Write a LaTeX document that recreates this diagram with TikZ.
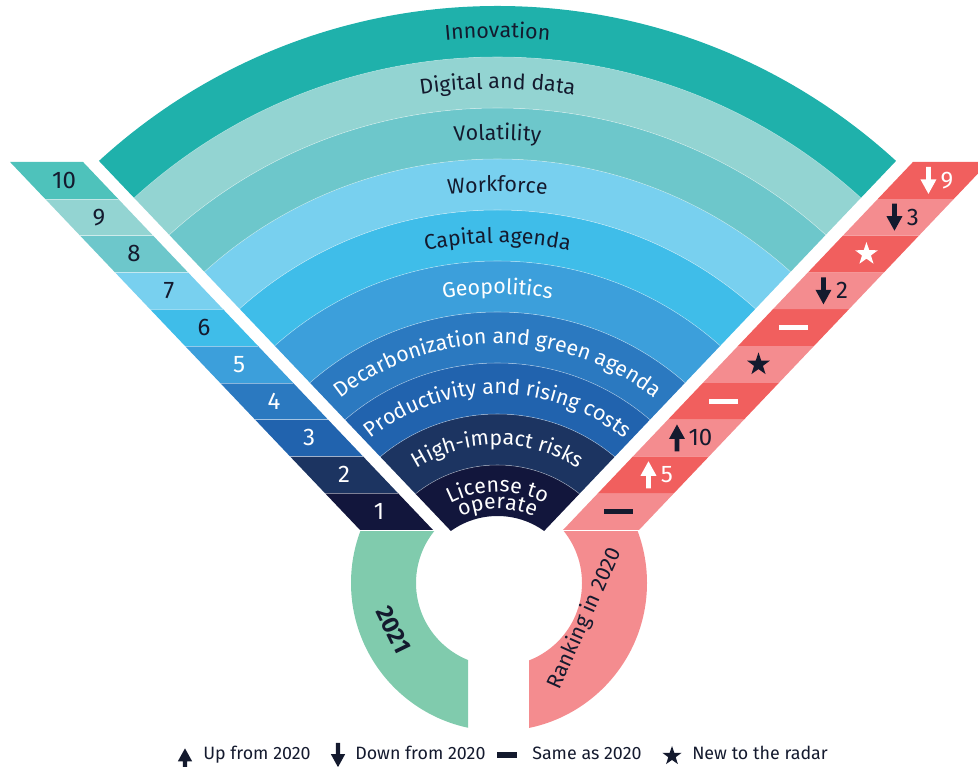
\documentclass[tikz,border=0pt]{standalone}
\usepackage{fontspec}
\setmainfont{Fira Sans}
\usetikzlibrary{calc,decorations.text,shapes.geometric}
\definecolor{innov}{HTML}{1FB1AB}
\definecolor{digit}{HTML}{93D4D2}
\definecolor{volat}{HTML}{6DC7CB}
\definecolor{workf}{HTML}{78D0EF}
\definecolor{capit}{HTML}{3FBDE9}
\definecolor{geopo}{HTML}{3C9FDB}
\definecolor{decarb}{HTML}{2B79C0}
\definecolor{produ}{HTML}{2163AE}
\definecolor{highi}{HTML}{1C3461}
\definecolor{licen}{HTML}{12163C}
\definecolor{cellten}{HTML}{4EC2BB}
\definecolor{redd}{HTML}{F15F5E}
\definecolor{pinkk}{HTML}{F48C8F}
\definecolor{greenn}{HTML}{80CBAD}
\definecolor{dtext}{HTML}{141A2E}
\newcommand\bandfnt{\fontsize{16}{16}\selectfont}
\newcommand\numfnt{\fontsize{18}{18}\selectfont}
\newcommand\legfnt{\fontsize{13.4}{14}\selectfont}
\tikzset{
  pics/uparr/.style={code={\fill[#1] (-2.4,-13.5) -- (-2.4,-1) -- (-8,-1) -- (0,13.5) -- (8,-1) -- (2.4,-1) -- (2.4,-13.5) -- cycle;}},
  pics/dnarr/.style={code={\fill[#1] (-2.4,13.5) -- (-2.4,1) -- (-8,1) -- (0,-13.5) -- (8,1) -- (2.4,1) -- (2.4,13.5) -- cycle;}},
  numtxt/.style={font=\numfnt, inner sep=0pt},
  newstar/.style={star, star points=5, star point ratio=2.55, inner sep=0pt, minimum size=18pt, fill=#1},
  samebar/.style={fill=#1, inner sep=0pt, minimum width=21.75pt, minimum height=3.9pt},
  sepline/.style={white, opacity=0.45, line width=0.4pt},
  legtxt/.style={font=\legfnt, text=dtext, anchor=base west, inner sep=0pt},
  bandtxt/.style 2 args={decorate,decoration={text along path,text align=center,text={|\bandfnt\color{#1}|#2}}},
}
\begin{document}
\begin{tikzpicture}[x=0.75pt,y=0.75pt]
\useasboundingbox (0,0) rectangle (978,767);
\clip (0,0) rectangle (978,767);
\coordinate (C) at (497.5,171);
\coordinate (R) at (499,184);
% ---- fan ----
\begin{scope}
\clip (497.5,187) -- ++(-0.951*800,800) -- ++(2*0.951*800,0) -- cycle;
\foreach \k/\col in {1/licen,2/highi,3/produ,4/decarb,5/geopo,6/capit,7/workf,8/volat,9/digit,10/innov}{
  \pgfmathsetmacro{\ri}{29+51*\k}
  \pgfmathsetmacro{\ro}{80+51*\k}
  \fill[\col, even odd rule] (C) circle[radius=\ro] (C) circle[radius=\ri];
}
\foreach \k in {1,...,9}{
  \pgfmathsetmacro{\rr}{80+51*\k}
  \draw[sepline] (C) circle[radius=\rr];
}
\end{scope}
% ---- band labels ----
\path[bandtxt={dtext}{Innovation}] (C) ++(160:558) arc[start angle=160,end angle=20,radius=558];
\path[bandtxt={dtext}{Digital and data}] (C) ++(160:507) arc[start angle=160,end angle=20,radius=507];
\path[bandtxt={dtext}{Volatility}] (C) ++(160:456) arc[start angle=160,end angle=20,radius=456];
\path[bandtxt={dtext}{Workforce}] (C) ++(160:404) arc[start angle=160,end angle=20,radius=404];
\path[bandtxt={dtext}{Capital agenda}] (C) ++(160:353) arc[start angle=160,end angle=20,radius=353];
\path[bandtxt={white}{Geopolitics}] (C) ++(160:302) arc[start angle=160,end angle=20,radius=302];
\path[bandtxt={white}{Decarbonization and green agenda}] (C) ++(160:252) arc[start angle=160,end angle=20,radius=252];
\path[bandtxt={white}{Productivity and rising costs}] (C) ++(160:202) arc[start angle=160,end angle=20,radius=202];
\path[bandtxt={white}{High-impact risks}] (C) ++(160:151) arc[start angle=160,end angle=20,radius=151];
\path[bandtxt={white}{License to}] (C) ++(160:104) arc[start angle=160,end angle=20,radius=104];
\path[bandtxt={white}{operate}] (C) ++(160:87) arc[start angle=160,end angle=20,radius=87];
% ---- left strip ----
\begin{scope}[xslant=-0.951]
\foreach \i/\col/\tc in {1/licen/white,2/highi/white,3/produ/white,4/decarb/white,5/geopo/white,6/capit/dtext,7/workf/dtext,8/volat/dtext,9/digit/dtext,10/cellten/dtext}{
  \pgfmathsetmacro{\ya}{237+36.8*(\i-1)}
  \pgfmathsetmacro{\yb}{237+36.8*\i}
  \pgfmathsetmacro{\ym}{237+36.8*(\i-0.5)}
  \fill[\col] (585.4,\ya) -- (658.4,\ya) -- (658.4,\yb) -- (585.4,\yb) -- cycle;
  \node[numtxt, text=\tc] (L\i) at (621.9,\ym) {\i};
}
\foreach \i in {1,...,9}{
  \pgfmathsetmacro{\yb}{237+36.8*\i}
  \draw[sepline] (585.4,\yb) -- (658.4,\yb);
}
\end{scope}
% ---- right strip ----
\begin{scope}[xslant=0.951]
\foreach \i/\col in {1/pinkk,2/redd,3/pinkk,4/redd,5/pinkk,6/redd,7/pinkk,8/redd,9/pinkk,10/redd}{
  \pgfmathsetmacro{\ya}{237+36.8*(\i-1)}
  \pgfmathsetmacro{\yb}{237+36.8*\i}
  \pgfmathsetmacro{\ym}{237+36.8*(\i-0.5)}
  \fill[\col] (337.6,\ya) -- (413.6,\ya) -- (413.6,\yb) -- (337.6,\yb) -- cycle;
  \coordinate (q\i) at (375.6,\ym);
}
\end{scope}
\pic at ($(q10)+(-5,0)$) {dnarr=white};
\node[numtxt,text=white] (n10) at ($(q10)+(13.5,0)$) {9};
\pic at ($(q9)+(-4,0)$) {dnarr=dtext};
\node[numtxt,text=dtext] (n9) at ($(q9)+(14.5,0)$) {3};
\node[newstar=white] (s8) at ($(q8)+(3,0)$) {};
\pic at ($(q7)+(-5,0)$) {dnarr=dtext};
\node[numtxt,text=dtext] (n7) at ($(q7)+(13.5,0)$) {2};
\node[samebar=white] (b6) at (q6) {};
\node[newstar=dtext] (s5) at (q5) {};
\node[samebar=white] (b4) at (q4) {};
\pic at ($(q3)+(-11.5,0)$) {uparr=dtext};
\node[numtxt,text=dtext] (n3) at ($(q3)+(12,0)$) {10};
\pic at ($(q2)+(-5,0)$) {uparr=white};
\node[numtxt,text=white] (n2) at ($(q2)+(13.5,0)$) {5};
\node[samebar=dtext] (b1) at (q1) {};
% ---- ring ----
\begin{scope}
\clip (0,0) rectangle (468,235);
\fill[greenn, even odd rule] (R) circle[radius=148] (R) circle[radius=83];
\end{scope}
\begin{scope}
\clip (529,0) rectangle (978,235);
\fill[pinkk, even odd rule] (R) circle[radius=148] (R) circle[radius=83];
\end{scope}
\node[rotate=-64, font=\fontsize{18}{18}\selectfont\bfseries, text=dtext] (yr) at (393.5,137) {2021};
\node[rotate=66, font=\bandfnt, text=dtext] (rk) at (585,148.5) {Ranking in 2020};
% ---- legend ----
\pic[scale=0.9] at (185,6.5) {uparr=dtext};
\node[legtxt] (lg1) at (203,7) {Up from 2020};
\pic[scale=0.9] at (338,12) {dnarr=dtext};
\node[legtxt] (lg2) at (355,7) {Down from 2020};
\node[samebar=dtext, minimum width=15pt] (lgb) at (507,12) {};
\node[legtxt] (lg3) at (532,7) {Same as 2020};
\node[newstar=dtext, minimum size=15pt] (lgs) at (672,11) {};
\node[legtxt] (lg4) at (692,7) {New to the radar};
\end{tikzpicture}
\end{document}
